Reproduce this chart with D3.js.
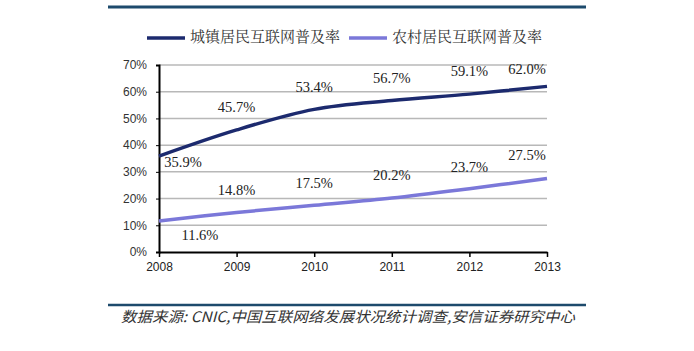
<!DOCTYPE html>
<html>
<head>
<meta charset="utf-8">
<script src="https://cdn.jsdelivr.net/npm/d3@7"></script>
<style>
  body { margin: 0; background: #fff; }
</style>
</head>
<body>
<div id="container"></div>
<script>
// data
let years = [2008, 2009, 2010, 2011, 2012, 2013];
let urbanRate = [35.9, 45.7, 53.4, 56.7, 59.1, 62.0];
let ruralRate = [11.6, 14.8, 17.5, 20.2, 23.7, 27.5];
let yTicks = [0, 10, 20, 30, 40, 50, 60, 70];
let seriesNames = ["城镇居民互联网普及率", "农村居民互联网普及率"];
let sourceText = "数据来源: CNIC,中国互联网络发展状况统计调查,安信证券研究中心";

let w = 694;
let h = 351;

let viz = d3.select("#container")
  .append("svg")
    .attr("width", w)
    .attr("height", h)
    .style("background-color", "white");

let xScale = d3.scaleLinear().domain([2008, 2013]).range([159, 547]);
let yScale = d3.scaleLinear().domain([0, 70]).range([252, 65]);

// frame lines top and bottom
viz.append("line").attr("x1", 108).attr("x2", 586).attr("y1", 7).attr("y2", 7)
  .attr("stroke", "#1d4a6c").attr("stroke-width", 3);
viz.append("line").attr("x1", 108).attr("x2", 586).attr("y1", 305).attr("y2", 305)
  .attr("stroke", "#1d4a6c").attr("stroke-width", 2.5);

// gridlines
viz.append("g").selectAll("line").data(yTicks.slice(1)).enter().append("line")
  .attr("x1", xScale(2008)).attr("x2", xScale(2013))
  .attr("y1", d => yScale(d)).attr("y2", d => yScale(d))
  .attr("stroke", "#b8b8b8").attr("stroke-width", 1.5);

// y axis
let yAxis = d3.axisLeft(yScale).tickValues(yTicks).tickFormat(d => d + "%").tickSize(3);
let yAxisGroup = viz.append("g").attr("transform", "translate(" + xScale(2008) + ",0)").call(yAxis);
yAxisGroup.select(".domain").attr("stroke", "#000").attr("stroke-width", 2);
yAxisGroup.selectAll("text").attr("font-family", "Liberation Sans, Arial, sans-serif")
  .attr("font-size", 12).attr("fill", "#333").attr("x", -12);
yAxisGroup.selectAll(".tick line").attr("stroke", "#000");

// x axis
let xAxis = d3.axisBottom(xScale).tickValues(years).tickFormat(d3.format("d")).tickSize(5).tickSizeOuter(0);
let xAxisGroup = viz.append("g").attr("transform", "translate(0," + yScale(0) + ")").call(xAxis);
xAxisGroup.select(".domain").attr("stroke", "#000").attr("stroke-width", 2);
xAxisGroup.selectAll(".tick line").attr("stroke", "#000").attr("stroke-width", 1.5);
xAxisGroup.selectAll("text").attr("font-family", "Liberation Sans, Arial, sans-serif")
  .attr("font-size", 12).attr("fill", "#222").attr("y", 10);

// lines
let line = d3.line()
  .x((d, i) => xScale(years[i]))
  .y(d => yScale(d))
  .curve(d3.curveCatmullRom.alpha(0.5));

viz.append("path").datum(ruralRate).attr("d", line)
  .attr("fill", "none").attr("stroke", "#7b78d9").attr("stroke-width", 3.5);
viz.append("path").datum(urbanRate).attr("d", line)
  .attr("fill", "none").attr("stroke", "#1c2a6e").attr("stroke-width", 3.5);

// value labels (offsets in px from the point)
let urbanOffsets = [[24, 8], [0, -21], [0, -21], [0, -21], [0, -21], [-20, -16]];
let ruralOffsets = [[41, 16], [0, -21], [0, -21], [0, -21], [0, -20], [-20, -22]];

function addLabels(values, offsets) {
  viz.append("g").selectAll("text").data(values).enter().append("text")
    .attr("x", (d, i) => xScale(years[i]) + offsets[i][0])
    .attr("y", (d, i) => yScale(d) + offsets[i][1])
    .attr("text-anchor", "middle")
    .attr("dominant-baseline", "middle")
    .attr("font-family", "Liberation Serif, Times New Roman, serif")
    .attr("font-size", 14.5)
    .attr("fill", "#222")
    .text(d => d.toFixed(1) + "%");
}
addLabels(urbanRate, urbanOffsets);
addLabels(ruralRate, ruralOffsets);

// legend
let legendColors = ["#1c2a6e", "#7b78d9"];
let legendX = [147, 349];
let legend = viz.append("g").selectAll("g").data(seriesNames).enter().append("g")
  .attr("transform", (d, i) => "translate(" + legendX[i] + ",38)");
legend.append("line").attr("x1", 0).attr("x2", 38).attr("y1", 0).attr("y2", 0)
  .attr("stroke", (d, i) => legendColors[i]).attr("stroke-width", 3.5);
legend.append("text").attr("x", 43).attr("y", 0)
  .attr("dominant-baseline", "middle")
  .attr("font-family", "Noto Serif CJK SC, Noto Sans CJK SC, sans-serif")
  .attr("font-size", 14.5).attr("fill", "#333")
  .attr("textLength", 150).attr("lengthAdjust", "spacingAndGlyphs")
  .text(d => d);

// source note
viz.append("text").attr("x", 121).attr("y", 318)
  .attr("dominant-baseline", "middle")
  .attr("font-family", "Noto Sans CJK SC, sans-serif")
  .attr("font-style", "italic")
  .attr("font-size", 14.5)
  .attr("fill", "#333")
  .attr("textLength", 454).attr("lengthAdjust", "spacingAndGlyphs")
  .text(sourceText);
</script>
</body>
</html>
